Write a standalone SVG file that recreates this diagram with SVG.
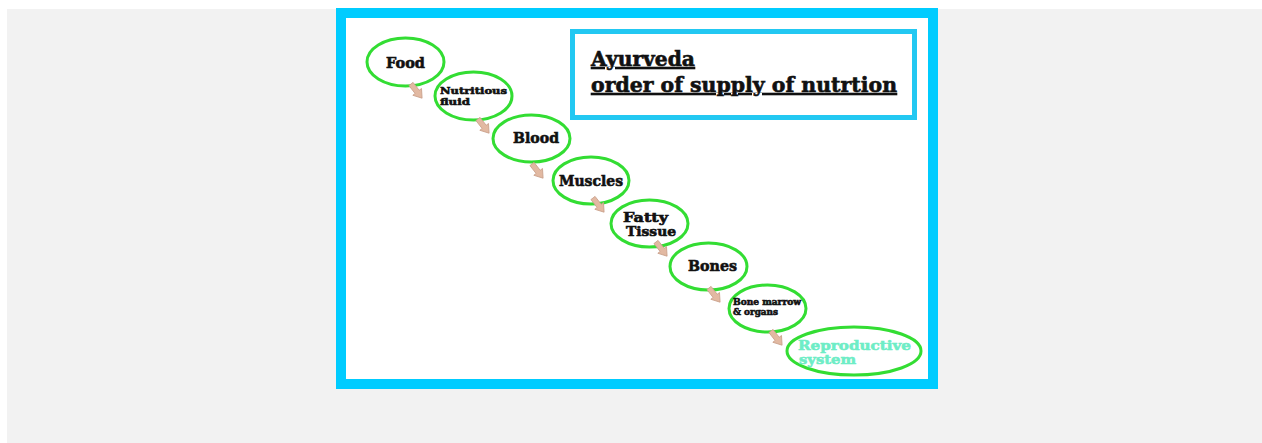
<svg xmlns="http://www.w3.org/2000/svg" width="1262" height="443" viewBox="0 0 1262 443">
<defs>
<style>
.node ellipse{fill:#fff;stroke:#33DD33;stroke-width:3}
.t{font-family:"DejaVu Serif","Liberation Serif",serif;font-weight:bold;fill:#111;stroke:#111;stroke-width:0.6}
.rep{fill:#6EEDC6;stroke:#6EEDC6}
.arr{fill:#E2B9A2;stroke:#C9A08A;stroke-width:0.8}
</style>
<path id="ar" d="M0,-2.6 L10,-2.6 L10,-5.5 L18,0 L10,5.5 L10,2.6 L0,2.6 Z"/>
</defs>
<rect x="0" y="0" width="1262" height="443" fill="#fff"/>
<rect x="7" y="9" width="1255" height="434" fill="#F2F2F2"/>
<rect x="341" y="13" width="592" height="371" fill="#fff" stroke="#00CCFF" stroke-width="10"/>
<g id="title">
<rect x="572.5" y="31.5" width="342" height="86" fill="#fff" stroke="#22C8F2" stroke-width="5"/>
<text class="t" x="591" y="66" font-size="20" textLength="104" lengthAdjust="spacingAndGlyphs" text-decoration="underline">Ayurveda</text>
<text class="t" x="591" y="92" font-size="20" textLength="306" lengthAdjust="spacingAndGlyphs" text-decoration="underline">order of supply of nutrtion</text>
</g>
<g id="food" class="node"><ellipse cx="405.5" cy="62" rx="38.5" ry="24"/><text class="t" x="386" y="68" font-size="15" textLength="39" lengthAdjust="spacingAndGlyphs">Food</text></g>
<g id="nutritious-fluid" class="node"><ellipse cx="473.5" cy="96" rx="38.5" ry="24"/><text class="t" x="440" y="94" font-size="9.5" textLength="67" lengthAdjust="spacingAndGlyphs">Nutritious</text><text class="t" x="440" y="104.5" font-size="9.5" textLength="30" lengthAdjust="spacingAndGlyphs">fluid</text></g>
<g id="blood" class="node"><ellipse cx="531.5" cy="138.5" rx="38.5" ry="23.5"/><text class="t" x="513" y="143" font-size="15" textLength="46" lengthAdjust="spacingAndGlyphs">Blood</text></g>
<g id="muscles" class="node"><ellipse cx="591" cy="180.5" rx="38" ry="23.5"/><text class="t" x="559" y="186" font-size="15" textLength="64" lengthAdjust="spacingAndGlyphs">Muscles</text></g>
<g id="fatty-tissue" class="node"><ellipse cx="649.5" cy="223.5" rx="38.5" ry="23.5"/><text class="t" x="623" y="222" font-size="12.5" textLength="45" lengthAdjust="spacingAndGlyphs">Fatty</text><text class="t" x="626" y="235.5" font-size="12.5" textLength="50" lengthAdjust="spacingAndGlyphs">Tissue</text></g>
<g id="bones" class="node"><ellipse cx="708.5" cy="266.5" rx="38.5" ry="23.5"/><text class="t" x="688" y="271" font-size="15" textLength="49" lengthAdjust="spacingAndGlyphs">Bones</text></g>
<g id="bone-marrow" class="node"><ellipse cx="767.5" cy="308.5" rx="38.5" ry="23.5"/><text class="t" x="733" y="305" font-size="8.5" textLength="68" lengthAdjust="spacingAndGlyphs">Bone marrow</text><text class="t" x="733" y="314.5" font-size="8.5" textLength="45" lengthAdjust="spacingAndGlyphs">&amp; organs</text></g>
<g id="reproductive" class="node"><ellipse cx="854" cy="351" rx="67" ry="24"/><text class="t rep" x="798" y="350" font-size="13.5" textLength="113" lengthAdjust="spacingAndGlyphs">Reproductive</text><text class="t rep" x="799" y="364" font-size="13.5" textLength="57" lengthAdjust="spacingAndGlyphs">system</text></g>
<g id="connectors">
<use href="#ar" class="arr" transform="translate(411,84) rotate(52)"/>
<use href="#ar" class="arr" transform="translate(478,119) rotate(52)"/>
<use href="#ar" class="arr" transform="translate(532,164) rotate(52)"/>
<use href="#ar" class="arr" transform="translate(593,198) rotate(52)"/>
<use href="#ar" class="arr" transform="translate(656,242) rotate(52)"/>
<use href="#ar" class="arr" transform="translate(709,288) rotate(52)"/>
<use href="#ar" class="arr" transform="translate(771,331) rotate(52)"/>
</g>
</svg>
